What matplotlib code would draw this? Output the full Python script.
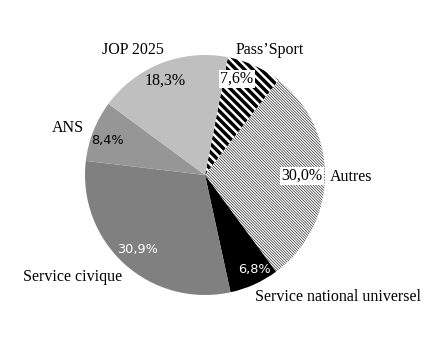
import matplotlib
matplotlib.use("Agg")
import matplotlib.pyplot as plt

labels = ["Pass\u2019Sport", "Autres", "Service national universel", "Service civique", "ANS", "JOP 2025"]
values = [7.6, 30.0, 6.8, 30.9, 8.4, 18.3]
colors = ["white", "white", "black", "#808080", "#969696", "#bfbfbf"]
hatches = ["\\" * 4, "\\" * 12, None, None, None, None]
hatch_lw = [2.5, 0.4, 1, 1, 1, 1]

# label placements (pie data units) and styles
name_pos = [(0.54, 1.04), (1.04, -0.015), (1.11, -1.02), (-1.10, -0.85), (-1.14, 0.39), (-0.60, 1.04)]
name_ha = ["center", "left", "center", "center", "center", "center"]
pct_pos = [(0.267, 0.80), (0.808, -0.008), (0.41, -0.79), (-0.56, -0.62), (-0.81, 0.285), (-0.335, 0.785)]
pct_color = ["black", "black", "white", "white", "black", "black"]
pct_family = ["Liberation Serif", "Liberation Serif", "DejaVu Sans", "DejaVu Sans", "DejaVu Sans", "Liberation Serif"]
pct_size = [11.5, 11.5, 9.3, 9.3, 9.3, 11.5]
pct_box = [True, True, False, False, False, False]

fig = plt.figure(figsize=(4.44, 3.54), dpi=100)
cx, cy, r = 205 / 444, (354 - 175) / 354, 120
ax = fig.add_axes([cx - r / 444, cy - r / 354, 2 * r / 444, 2 * r / 354])

wedges, _ = ax.pie(values, colors=colors, startangle=79, counterclock=False,
                   wedgeprops=dict(linewidth=0, edgecolor="black"), radius=1)
for w, h, lw in zip(wedges, hatches, hatch_lw):
    if h:
        w.set_hatch(h)
        w.set_edgecolor("black")
        w.set_linewidth(0)
        if hasattr(w, "set_hatch_linewidth"):
            w.set_hatch_linewidth(lw)

ax.set_xlim(-1, 1)
ax.set_ylim(-1, 1)
ax.set_aspect("auto")
ax.axis("off")

for lab, (x, y), ha in zip(labels, name_pos, name_ha):
    ax.text(x, y, lab, ha=ha, va="center", fontsize=11.5, family="Liberation Serif", clip_on=False)

for v, (x, y), c, f, s, b in zip(values, pct_pos, pct_color, pct_family, pct_size, pct_box):
    txt = f"{v:.1f}%".replace(".", ",")
    kw = {}
    if b:
        kw["bbox"] = dict(facecolor="white", edgecolor="none", pad=0.8)
    ax.text(x, y, txt, ha="center", va="center", fontsize=s, family=f, color=c, **kw)

fig.savefig("out.png", dpi=100)
